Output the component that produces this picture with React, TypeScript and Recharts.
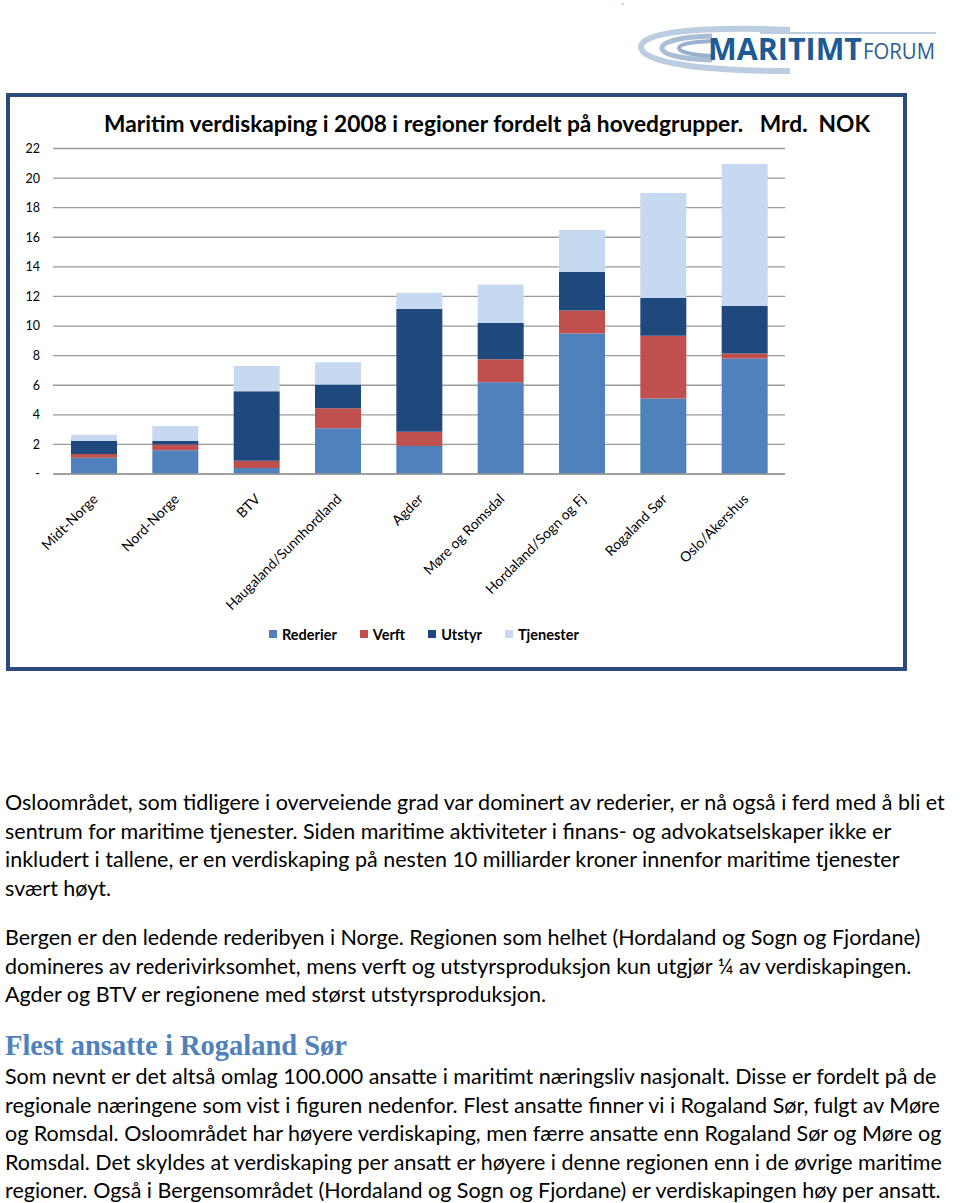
import React from 'react';
import { BarChart, Bar, XAxis, YAxis, CartesianGrid, Legend } from 'recharts';

// values in mrd. NOK
const categories = [
  'Midt-Norge',
  'Nord-Norge',
  'BTV',
  'Haugaland/Sunnhordland',
  'Agder',
  'Møre og Romsdal',
  'Hordaland/Sogn og Fj',
  'Rogaland Sør',
  'Oslo/Akershus',
];
const rederier = [1.1, 1.6, 0.4, 3.1, 1.9, 6.2, 9.5, 5.1, 7.8];
const verft = [0.25, 0.4, 0.5, 1.35, 0.95, 1.55, 1.55, 4.25, 0.35];
const utstyr = [0.9, 0.25, 4.7, 1.6, 8.3, 2.45, 2.6, 2.55, 3.2];
const tjenester = [0.4, 1.0, 1.7, 1.5, 1.1, 2.6, 2.85, 7.1, 9.6];
const yTicks = [0, 2, 4, 6, 8, 10, 12, 14, 16, 18, 20, 22];

const series = [
  { key: 'rederier', name: 'Rederier', color: '#4F81BD', values: rederier },
  { key: 'verft', name: 'Verft', color: '#C0504D', values: verft },
  { key: 'utstyr', name: 'Utstyr', color: '#1F497D', values: utstyr },
  { key: 'tjenester', name: 'Tjenester', color: '#C6D9F1', values: tjenester },
];

const data = categories.map((name, i) => {
  const row: Record<string, string | number> = { name };
  series.forEach(s => {
    row[s.key] = s.values[i];
  });
  return row;
});

const title = 'Maritim verdiskaping i 2008 i regioner fordelt på hovedgrupper.\u00a0\u00a0 Mrd.\u00a0 NOK';

const para1 = [
  'Osloområdet, som tidligere i overveiende grad var dominert av rederier, er nå også i ferd med å bli et',
  'sentrum for maritime tjenester. Siden maritime aktiviteter i finans- og advokatselskaper ikke er',
  'inkludert i tallene, er en verdiskaping på nesten 10 milliarder kroner innenfor maritime tjenester',
  'svært høyt.',
];
const para2 = [
  'Bergen er den ledende rederibyen i Norge. Regionen som helhet (Hordaland og Sogn og Fjordane)',
  'domineres av rederivirksomhet, mens verft og utstyrsproduksjon kun utgjør ¼ av verdiskapingen.',
  'Agder og BTV er regionene med størst utstyrsproduksjon.',
];
const heading = 'Flest ansatte i Rogaland Sør';
const para3 = [
  'Som nevnt er det altså omlag 100.000 ansatte i maritimt næringsliv nasjonalt. Disse er fordelt på de',
  'regionale næringene som vist i figuren nedenfor. Flest ansatte finner vi i Rogaland Sør, fulgt av Møre',
  'og Romsdal. Osloområdet har høyere verdiskaping, men færre ansatte enn Rogaland Sør og Møre og',
  'Romsdal. Det skyldes at verdiskaping per ansatt er høyere i denne regionen enn i de øvrige maritime',
  'regioner. Også i Bergensområdet (Hordaland og Sogn og Fjordane) er verdiskapingen høy per ansatt.',
];

const FONT = 'Lato, "Open Sans", sans-serif';
const LINE = 28.5;
const CHART_TOP = 90;

const XTick = (props: any) => {
  const { x, payload } = props;
  const tx = x + 5;
  const ty = 500 - CHART_TOP;
  return (
    <text
      x={tx}
      y={ty}
      transform={`rotate(-45, ${tx}, ${ty})`}
      textAnchor="end"
      fontSize={14}
      fontFamily={FONT}
      fill="#000"
    >
      {payload.value}
    </text>
  );
};

const LegendContent = () => (
  <div
    style={{
      display: 'flex',
      alignItems: 'center',
      height: 30,
      paddingLeft: 269,
      fontFamily: FONT,
      fontWeight: 700,
      fontSize: 14.5,
      color: '#000',
    }}
  >
    {series.map(s => (
      <div key={s.key} style={{ display: 'flex', alignItems: 'center', marginRight: 23 }}>
        <span style={{ width: 8, height: 8, background: s.color, marginRight: 5, display: 'inline-block' }} />
        <span>{s.name}</span>
      </div>
    ))}
  </div>
);

const Logo = () => (
  <g>
    <path d="M 790 30 C 700 26, 641 32, 641 47 C 641 63, 705 71, 790 71" stroke="#bccde1" strokeWidth={6} fill="none" />
    <path d="M 760 33 L 936 33" stroke="#bccde1" strokeWidth={2} />
    <path d="M 712 36 C 682 37, 662 41, 662 48 C 662 55, 682 59, 712 60" stroke="#a9bdd6" strokeWidth={5} fill="none" />
    <path d="M 712 41 C 692 42, 679 44, 679 48 C 679 52, 692 55, 712 56" stroke="#98afcd" strokeWidth={4} fill="none" />
    <text x={708} y={60} fontSize={31} fontWeight={700} fill="#1d5a96" fontFamily='"Open Sans", sans-serif' textLength={154} lengthAdjust="spacingAndGlyphs">
      MARITIMT
    </text>
    <text x={863} y={59} fontSize={21} fontWeight={400} fill="#2a5d94" fontFamily='"Open Sans", sans-serif' textLength={72} lengthAdjust="spacingAndGlyphs">
      FORUM
    </text>
  </g>
);

const Body = () => {
  const rows: { text: string; y: number }[] = [];
  para1.forEach((t, i) => rows.push({ text: t, y: 810 + i * LINE }));
  para2.forEach((t, i) => rows.push({ text: t, y: 945 + i * LINE }));
  para3.forEach((t, i) => rows.push({ text: t, y: 1084 + i * LINE }));
  return (
    <g>
      {rows.map((r, i) => (
        <text key={i} x={5} y={r.y} fontSize={21.5} fontFamily={FONT} fill="#000">
          {r.text}
        </text>
      ))}
      <text x={5} y={1055} fontSize={28.5} fontWeight={700} fontFamily='"Liberation Serif", serif' fill="#4F81BD">
        {heading}
      </text>
    </g>
  );
};

export default function App() {
  return (
    <div style={{ position: 'absolute', left: 0, top: 0, width: 960, height: 1203, background: '#fff', overflow: 'hidden' }}>
      <div
        style={{
          position: 'absolute',
          left: 6,
          top: 93,
          width: 901,
          height: 578,
          border: '4px solid #2a4b7c',
          boxSizing: 'border-box',
        }}
      />
      <div style={{ position: 'absolute', left: 0, top: CHART_TOP }}>
        <BarChart
          width={910}
          height={590}
          data={data}
          margin={{ top: 58.5, right: 125, left: 0, bottom: 31 }}
        >
          <CartesianGrid vertical={false} stroke="#9a9a9a" strokeWidth={1.3} />
          <XAxis
            dataKey="name"
            interval={0}
            height={145}
            tick={<XTick />}
            tickLine={false}
            axisLine={{ stroke: '#9a9a9a', strokeWidth: 1.3 }}
          />
          <YAxis
            width={53}
            domain={[0, 22]}
            ticks={yTicks}
            interval={0}
            axisLine={false}
            tickLine={false}
            tick={{ fontSize: 12.5, fill: '#000', fontFamily: FONT, dx: -5 }}
            tickFormatter={(v: number) => (v === 0 ? '-' : String(v))}
          />
          <Legend verticalAlign="bottom" height={30} content={<LegendContent />} />
          {series.map(s => (
            <Bar key={s.key} dataKey={s.key} name={s.name} stackId="a" fill={s.color} barSize={46} isAnimationActive={false} />
          ))}
        </BarChart>
      </div>
      <svg width={960} height={1203} style={{ position: 'absolute', left: 0, top: 0, pointerEvents: 'none' }}>
        <text x={622} y={6} fontSize={6} fill="#999" fontFamily={FONT}>r</text>
        <Logo />
        <text x={104} y={132} fontSize={22.5} fontWeight={700} fontFamily={FONT} fill="#000" textLength={766} lengthAdjust="spacingAndGlyphs">
          {title}
        </text>
        <Body />
      </svg>
    </div>
  );
}
